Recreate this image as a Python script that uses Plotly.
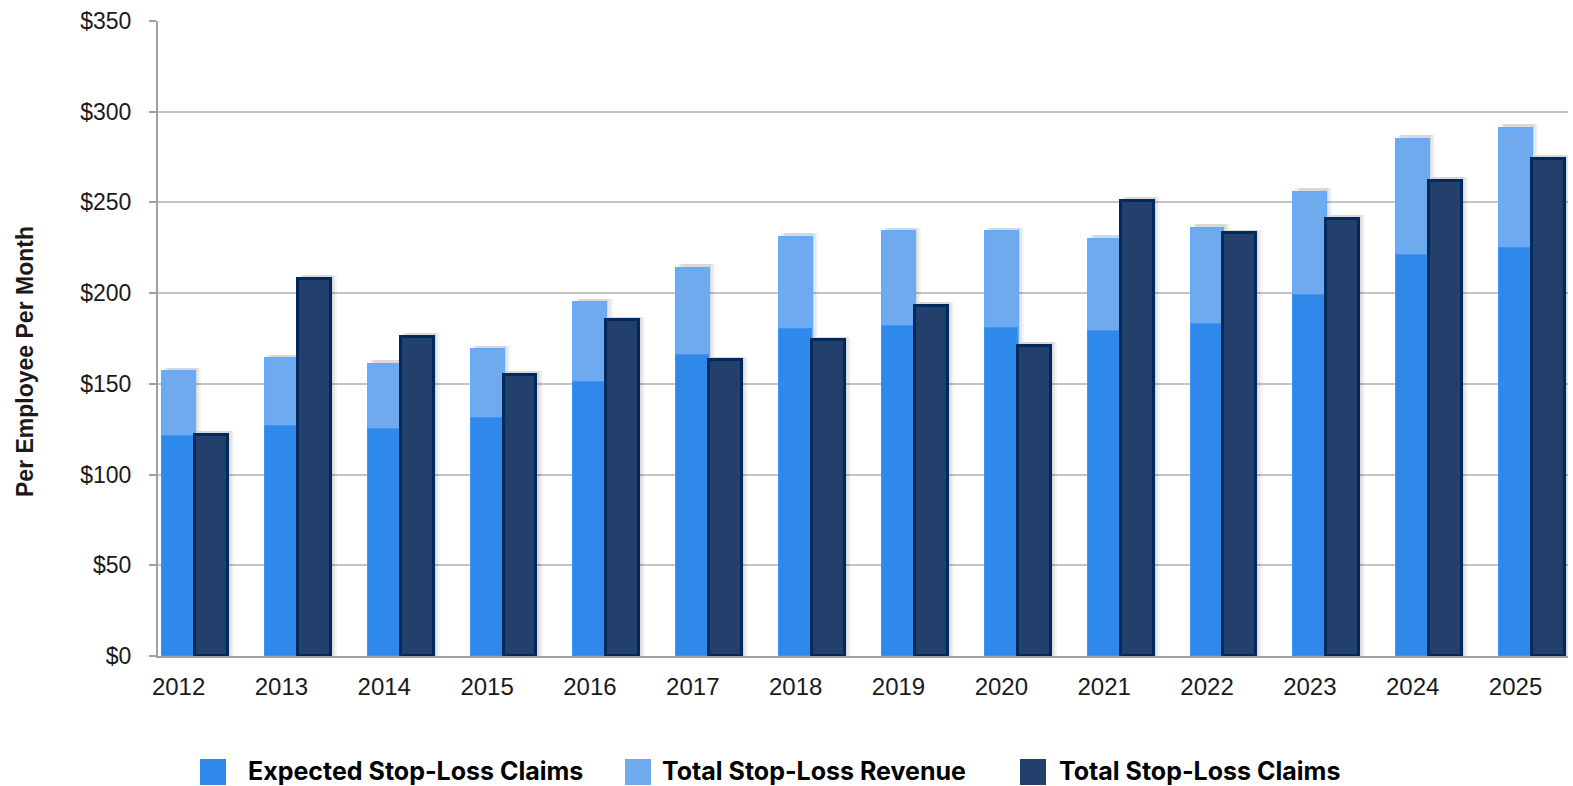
import plotly.graph_objects as go

years = [2012, 2013, 2014, 2015, 2016, 2017, 2018, 2019, 2020, 2021, 2022, 2023, 2024, 2025]
expected_claims = [121, 127, 125, 131, 151, 166, 180, 182, 181, 179, 183, 199, 221, 225]
total_revenue = [157, 164, 161, 169, 195, 214, 231, 234, 234, 230, 236, 256, 285, 291]
total_claims = [122, 208, 176, 155, 185, 163, 174, 193, 171, 251, 233, 241, 262, 274]
series_names = ["Expected Stop-Loss Claims", "Total Stop-Loss Revenue", "Total Stop-Loss Claims"]
y_ticks = [0, 50, 100, 150, 200, 250, 300, 350]
y_tick_labels = ["$" + str(v) for v in y_ticks]

C_EXP = "#2f89eb"
C_REV = "#6fa9ee"
C_CLM = "#22406b"
C_CLM_LINE = "#002a5c"

W, H = 1573, 786
L, R, T, B = 158, 5, 21, 130
PW = W - L - R
PH = H - T - B

bw = 0.32

fig = go.Figure()
# soft shadows
for dx, a in [(0.06, 0.04), (0.04, 0.06), (0.02, 0.06)]:
    fig.add_trace(go.Bar(x=years, y=[v + 2 for v in total_revenue], offset=-bw + dx, width=bw,
                         marker=dict(color="rgba(0,0,0,%s)" % a, line=dict(width=0)),
                         showlegend=False, hoverinfo="skip"))
    fig.add_trace(go.Bar(x=years, y=[v + 2 for v in total_claims], offset=dx, width=bw,
                         marker=dict(color="rgba(0,0,0,%s)" % a, line=dict(width=0)),
                         showlegend=False, hoverinfo="skip"))
fig.add_trace(go.Bar(x=years, y=total_revenue, name=series_names[1], offset=-bw, width=bw,
                     marker=dict(color=C_REV, line=dict(color="#63abff", width=2)),
                     showlegend=False))
fig.add_trace(go.Bar(x=years, y=expected_claims, name=series_names[0], offset=-bw, width=bw,
                     marker=dict(color=C_EXP, line=dict(color="#3f93f5", width=1)),
                     showlegend=False))
fig.add_trace(go.Bar(x=years, y=total_claims, name=series_names[2], offset=0, width=bw,
                     marker=dict(color=C_CLM, line=dict(color=C_CLM_LINE, width=3)),
                     showlegend=False))

y_tick_font = dict(family="Liberation Sans, Arial", size=23, color="#1a1a1a")
x_tick_font = dict(family="Liberation Sans, Arial", size=24, color="#1a1a1a")

fig.update_layout(
    width=W, height=H,
    margin=dict(l=L, r=R, t=T, b=B),
    paper_bgcolor="white", plot_bgcolor="white",
    barmode="overlay", bargap=0,
    xaxis=dict(range=[2011.64, 2025.35], tickvals=[y - bw / 2 for y in years],
               ticktext=[str(y) for y in years], tickfont=x_tick_font,
               showgrid=False, showline=True, linecolor="#a0a0a0", linewidth=2,
               ticks="", ticklabelstandoff=8, zeroline=False),
    yaxis=dict(range=[0, 350], tickvals=y_ticks, ticktext=y_tick_labels, tickfont=y_tick_font,
               showgrid=True, gridcolor="#c4c4c4", gridwidth=1.5,
               showline=True, linecolor="#a0a0a0", linewidth=2,
               ticks="outside", ticklen=7, tickcolor="#a0a0a0", tickwidth=1.5,
               ticklabelstandoff=13, zeroline=False),
    font=dict(family="Liberation Sans, Arial"),
)

def px(xp):
    return (xp - L) / PW

def py(yp):
    return (H - B - yp) / PH

fig.add_annotation(text="<b>Per Employee Per Month</b>", textangle=-90,
                   xref="paper", yref="paper", x=px(25), y=py(362),
                   xanchor="center", yanchor="middle", showarrow=False,
                   font=dict(family="Liberation Sans, Arial", size=23, color="#1a1a1a"))

legend_items = [(200, 246, C_EXP), (625, 660, C_REV), (1020, 1057, C_CLM)]
for (mx, tx, col), name in zip(legend_items, series_names):
    fig.add_shape(type="rect", xref="paper", yref="paper",
                  x0=px(mx), x1=px(mx + 26), y0=py(759), y1=py(785),
                  fillcolor=col, line=dict(width=0))
    fig.add_annotation(text="<b>" + name + "</b>", xref="paper", yref="paper",
                       x=px(tx), y=py(771), xanchor="left", yanchor="middle",
                       showarrow=False,
                       font=dict(family="Inter", size=25, color="#000000"))

fig.write_html("out.html")
